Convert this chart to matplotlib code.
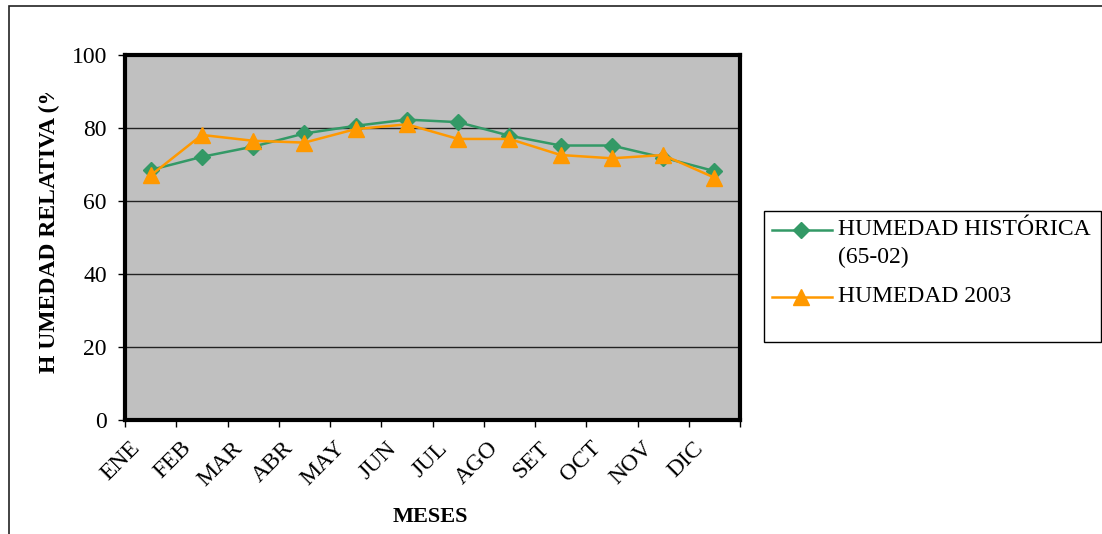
import matplotlib
matplotlib.use("Agg")
import matplotlib.pyplot as plt
from matplotlib.patches import Rectangle
from matplotlib.lines import Line2D
from matplotlib.transforms import Bbox

plt.rcParams['font.family'] = ['Liberation Serif', 'DejaVu Serif']

meses = ["ENE", "FEB", "MAR", "ABR", "MAY", "JUN",
         "JUL", "AGO", "SET", "OCT", "NOV", "DIC"]
humedad_historica = [68.5, 72.1, 74.9, 78.5, 80.6, 82.3,
                     81.6, 77.9, 75.2, 75.2, 71.9, 68.2]
humedad_2003 = [67.0, 78.1, 76.5, 76.0, 79.7, 81.0,
                77.0, 77.0, 72.6, 71.7, 72.6, 66.4]
series = [
    ("HUMEDAD HISTÓRICA\n(65-02)", humedad_historica, "#339966", "D", 8),
    ("HUMEDAD 2003", humedad_2003, "#FF9900", "^", 11),
]

W, H = 1102, 534
fig = plt.figure(figsize=(W / 100, H / 100), dpi=100)


def fx(px):
    return px / W


def fy(py):
    return 1 - py / H


# marco del area del grafico (cortado a la derecha y abajo)
fig.patches.append(Rectangle((fx(9), -0.1), 1.2, 0.1 + fy(6),
                             transform=fig.transFigure, fill=False,
                             edgecolor="#222222", linewidth=1.2))

ax = fig.add_axes([fx(125), fy(420), 615 / W, 365 / H])
ax.set_facecolor("#C0C0C0")

x = list(range(len(meses)))
for nombre, valores, color, marca, tam in series:
    ax.plot(x, valores, color=color, linewidth=1.8, marker=marca,
            markersize=tam, zorder=3)

ax.set_xlim(-0.5, len(meses) - 0.5)
ax.set_ylim(0, 100)
ax.set_yticks(range(0, 101, 20))
ax.tick_params(axis="y", labelsize=17, length=5, width=1, pad=8)
ax.grid(axis="y", color="#222222", linewidth=1)
ax.set_axisbelow(True)

# marcas entre categorias, etiquetas al centro
ax.set_xticks([i - 0.5 for i in range(len(meses) + 1)])
ax.set_xticklabels([])
ax.tick_params(axis="x", length=5, width=1)
for i, m in enumerate(meses):
    ax.annotate(m, xy=(i, 0), xycoords=("data", "axes fraction"),
                xytext=(-10, -18), textcoords="offset points",
                rotation=45, ha="right", va="center",
                rotation_mode="anchor", fontsize=17)

for s in ax.spines.values():
    s.set_linewidth(3)
    s.set_color("black")

fig.text(fx(430), fy(517), "MESES", ha="center", va="center",
         fontsize=16, fontweight="bold")

# titulo del eje Y, cortado arriba como en la hoja original
ylab = fig.text(fx(49), fy(373), "H UMEDAD RELATIVA (%)",
                rotation=90, ha="center", va="bottom",
                fontsize=17, fontweight="bold")
ylab.set_clip_box(Bbox.from_extents(0, 0, W, H - 93))
ylab.set_clip_on(True)

# leyenda dibujada a mano
fig.patches.append(Rectangle((fx(764), fy(342)), 337 / W, 131 / H,
                             transform=fig.transFigure, fill=False,
                             edgecolor="black", linewidth=1))
filas = [230, 297]
for (nombre, valores, color, marca, tam), fila in zip(series, filas):
    fig.add_artist(Line2D([fx(772), fx(832)], [fy(fila), fy(fila)],
                          color=color, linewidth=1.8,
                          transform=fig.transFigure))
    fig.add_artist(Line2D([fx(801)], [fy(fila)], color=color,
                          marker=marca, markersize=tam,
                          transform=fig.transFigure))
    fig.text(fx(838), fy(fila - 11), nombre, ha="left", va="top",
             fontsize=17, linespacing=1.45)

fig.savefig("out.png", dpi=100)
